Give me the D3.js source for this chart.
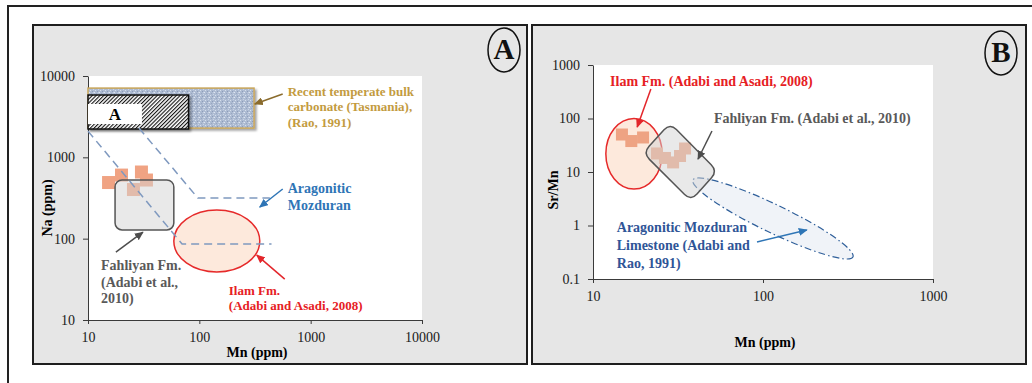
<!DOCTYPE html>
<html>
<head>
<meta charset="utf-8">
<script src="https://d3js.org/d3.v7.min.js"></script>
<style>
  body { margin: 0; background: #fff; }
  text { font-family: "Liberation Serif", "Times New Roman", serif; }
</style>
</head>
<body>
<div id="chart"></div>
<script>
// ---- panel A data (Mn vs Na, ppm) ----
var aIlamMn = [15.3, 20.0, 25.6, 30.2, 33.5];
var aIlamNa = [490, 605, 402, 660, 526];
var aRecentMn = [10, 310], aRecentNa = [7100, 2290];      // recent temperate bulk carbonate
var aHatchMn = [10, 80], aHatchNa = [5840, 2230];          // field A
var aWhiteMn = [10, 30.5], aWhiteNa = [4530, 2570];
var aFahliyanMn = [17.5, 59], aFahliyanNa = [526, 128];
var aIlamEllMn = [59, 349], aIlamEllNa = [225, 39];
var aArag1Mn = [10, 70, 445], aArag1Na = [2100, 86, 86];
var aArag2Mn = [28.7, 97, 430], aArag2Na = [2290, 316, 316];
var aTicks = [10, 100, 1000, 10000];

// ---- panel B data (Mn vs Sr/Mn) ----
var bIlamMn = [14.8, 16.8, 19.7, 23.8, 26.5, 29.6, 32.5, 34.8];
var bIlamSrMn = [50.2, 37.9, 44.2, 22.2, 18.3, 15.1, 19.9, 27.5];
var bIlamEllMn = [11.9, 25.5], bIlamEllSrMn = [100, 4.8];
var bFahliyanMn = [28.4, 54, 37.7, 19.7], bFahliyanSrMn = [82, 10.4, 2.9, 22.6];
var bAragEndsMn = [38.7, 338], bAragEndsSrMn = [7.1, 0.258];
var bXTicks = [10, 100, 1000];
var bYTicks = [0.1, 1, 10, 100, 1000];

var svg = d3.select("#chart").append("svg")
  .attr("width", 1032).attr("height", 383);

var defs = svg.append("defs");

// hatch for field A
var hatch = defs.append("pattern").attr("id", "hatch")
  .attr("patternUnits", "userSpaceOnUse").attr("width", 2.7).attr("height", 2.7)
  .attr("patternTransform", "rotate(45)");
hatch.append("rect").attr("width", 2.7).attr("height", 2.7).attr("fill", "#fff");
hatch.append("line").attr("x1", 0).attr("y1", 0).attr("x2", 0).attr("y2", 2.7)
  .attr("stroke", "#111").attr("stroke-width", 2.2);

// stipple for recent carbonate
var stip = defs.append("pattern").attr("id", "stipple")
  .attr("patternUnits", "userSpaceOnUse").attr("width", 5).attr("height", 5);
stip.append("rect").attr("width", 5).attr("height", 5).attr("fill", "#adbbd2");
[[0, 0, "#d6dfec"], [2, 1, "#8d9cb8"], [4, 2, "#dfe6f1"], [1, 3, "#98a7c1"], [3, 4, "#cbd5e6"], [3, 2, "#c4cfe2"]]
  .forEach(function (p) {
    stip.append("rect").attr("x", p[0]).attr("y", p[1]).attr("width", 1).attr("height", 1).attr("fill", p[2]);
  });

var shadow = defs.append("filter").attr("id", "shadow")
  .attr("x", "-10%").attr("y", "-10%").attr("width", "130%").attr("height", "140%");
shadow.append("feDropShadow").attr("dx", 2).attr("dy", 2).attr("stdDeviation", 1.2)
  .attr("flood-color", "#000").attr("flood-opacity", 0.35);

var arrowColors = { gold: "#8a6b2c", blue: "#2e75b6", gray: "#4d4d4d", red: "#e3262b" };
Object.keys(arrowColors).forEach(function (k) {
  defs.append("marker").attr("id", "arr-" + k)
    .attr("markerUnits", "userSpaceOnUse")
    .attr("markerWidth", 9).attr("markerHeight", 8)
    .attr("refX", 8).attr("refY", 4).attr("orient", "auto")
    .append("path").attr("d", "M0,0 L9,4 L0,8 z").attr("fill", arrowColors[k]);
});

// outer frame
svg.append("rect").attr("x", 8).attr("y", 6).attr("width", 1040).attr("height", 400)
  .attr("fill", "none").attr("stroke", "#222").attr("stroke-width", 2);

function panel(x0, x1, y0, y1) {
  svg.append("rect").attr("x", x0).attr("y", y0).attr("width", x1 - x0).attr("height", y1 - y0)
    .attr("fill", "#e6e6e6").attr("stroke", "#1e1e1e").attr("stroke-width", 2);
}
panel(33, 527, 25, 364);
panel(532, 1026, 25, 364);

function panelLetter(cx, cy, letter) {
  svg.append("ellipse").attr("cx", cx).attr("cy", cy).attr("rx", 16).attr("ry", 22)
    .attr("fill", "none").attr("stroke", "#111").attr("stroke-width", 1.5);
  svg.append("text").attr("x", cx).attr("y", cy + 9).attr("text-anchor", "middle")
    .attr("font-size", 29).attr("font-weight", "bold").attr("fill", "#111").text(letter);
}

function drawAxes(g, x, y, xt, yt) {
  var r = x.range(), d = y.range();
  g.append("rect").attr("x", r[0]).attr("y", d[1]).attr("width", r[1] - r[0]).attr("height", d[0] - d[1])
    .attr("fill", "#fff");
  var fmt = function (v) { return String(v); };
  var xg = g.append("g").attr("transform", "translate(0," + d[0] + ")");
  xg.call(d3.axisBottom(x).tickValues(x.ticks()).tickSize(-3).tickSizeOuter(0).tickFormat(""));
  xg.call(d3.axisBottom(x).tickValues(xt).tickSize(4).tickPadding(8).tickSizeOuter(0).tickFormat(fmt));
  var yg = g.append("g").attr("transform", "translate(" + r[0] + ",0)");
  yg.call(d3.axisLeft(y).tickValues(y.ticks()).tickSize(-3).tickSizeOuter(0).tickFormat(""));
  yg.call(d3.axisLeft(y).tickValues(yt).tickSize(5).tickPadding(8).tickSizeOuter(0).tickFormat(fmt));
  g.selectAll(".domain, .tick line").attr("stroke", "#3a3a3a");
  g.selectAll(".tick text").attr("font-size", 14).attr("fill", "#1a1a1a")
    .style("font-family", "Liberation Serif, serif");
}

function note(g, px, py, lines, color, size, lh) {
  var t = g.append("text").attr("x", px).attr("y", py).attr("fill", color)
    .attr("font-size", size).attr("font-weight", "bold");
  lines.forEach(function (s, i) {
    t.append("tspan").attr("x", px).attr("dy", i ? lh : 0).text(s);
  });
}

function arrow(g, p0, p1, key) {
  g.append("line").attr("x1", p0[0]).attr("y1", p0[1]).attr("x2", p1[0]).attr("y2", p1[1])
    .attr("stroke", arrowColors[key]).attr("stroke-width", 1.5)
    .attr("marker-end", "url(#arr-" + key + ")");
}

function roundedPoly(pts, r) {
  var n = pts.length, s = "";
  for (var i = 0; i < n; i++) {
    var p = pts[i], a = pts[(i - 1 + n) % n], b = pts[(i + 1) % n];
    var da = Math.hypot(a[0] - p[0], a[1] - p[1]), db = Math.hypot(b[0] - p[0], b[1] - p[1]);
    var s0 = [p[0] + (a[0] - p[0]) * r / da, p[1] + (a[1] - p[1]) * r / da];
    var s1 = [p[0] + (b[0] - p[0]) * r / db, p[1] + (b[1] - p[1]) * r / db];
    s += (i ? "L" : "M") + s0[0] + "," + s0[1] + "Q" + p[0] + "," + p[1] + " " + s1[0] + "," + s1[1];
  }
  return s + "Z";
}

// ================= PANEL A =================
var xA = d3.scaleLog().domain([10, 10000]).range([88, 422]);
var yA = d3.scaleLog().domain([10, 10000]).range([320, 76]);
var gA = svg.append("g");
drawAxes(gA, xA, yA, aTicks, aTicks);

function boxA(mn, na) {
  return gA.append("rect").attr("x", xA(mn[0])).attr("y", yA(na[0]))
    .attr("width", xA(mn[1]) - xA(mn[0])).attr("height", yA(na[1]) - yA(na[0]));
}
boxA(aRecentMn, aRecentNa).attr("fill", "url(#stipple)").attr("stroke", "#c9a65a")
  .attr("stroke-width", 1.5).attr("filter", "url(#shadow)");
boxA(aHatchMn, aHatchNa).attr("fill", "url(#hatch)").attr("stroke", "#111")
  .attr("stroke-width", 1.5).attr("filter", "url(#shadow)");
boxA(aWhiteMn, aWhiteNa).attr("fill", "#fff");
gA.append("text").attr("x", (xA(aWhiteMn[0]) + xA(aWhiteMn[1])) / 2)
  .attr("y", (yA(aWhiteNa[0]) + yA(aWhiteNa[1])) / 2 + 6)
  .attr("text-anchor", "middle").attr("font-size", 17).attr("font-weight", "bold").text("A");

// Ilam ellipse
gA.append("ellipse")
  .attr("cx", (xA(aIlamEllMn[0]) + xA(aIlamEllMn[1])) / 2)
  .attr("cy", (yA(aIlamEllNa[0]) + yA(aIlamEllNa[1])) / 2)
  .attr("rx", (xA(aIlamEllMn[1]) - xA(aIlamEllMn[0])) / 2)
  .attr("ry", (yA(aIlamEllNa[1]) - yA(aIlamEllNa[0])) / 2)
  .attr("fill", "#fde9dc").attr("stroke", "#e62a2a").attr("stroke-width", 1.5);

// Ilam samples
gA.selectAll("rect.sq").data(aIlamMn).enter().append("rect").attr("class", "sq")
  .attr("x", function (d) { return xA(d) - 6.5; })
  .attr("y", function (d, i) { return yA(aIlamNa[i]) - 6.5; })
  .attr("width", 13).attr("height", 13).attr("fill", "#f0a383");

// Fahliyan box
gA.append("rect").attr("x", xA(aFahliyanMn[0])).attr("y", yA(aFahliyanNa[0]))
  .attr("width", xA(aFahliyanMn[1]) - xA(aFahliyanMn[0]))
  .attr("height", yA(aFahliyanNa[1]) - yA(aFahliyanNa[0]))
  .attr("rx", 7).attr("fill", "#d4d4d4").attr("fill-opacity", 0.5)
  .attr("stroke", "#555").attr("stroke-width", 1.5);

// aragonitic Mozduran dashed limits
var lineA = d3.line().x(function (d) { return xA(d[0]); }).y(function (d) { return yA(d[1]); });
[[aArag1Mn, aArag1Na], [aArag2Mn, aArag2Na]].forEach(function (s) {
  gA.append("path").attr("d", lineA(d3.zip(s[0], s[1])))
    .attr("fill", "none").attr("stroke", "#7f99bf").attr("stroke-width", 1.5)
    .attr("stroke-dasharray", "8,5");
});

function pA(mn, na) { return [xA(mn), yA(na)]; }
note(gA, xA(622), yA(5680), ["Recent temperate bulk", "carbonate (Tasmania),", "(Rao, 1991)"], "#c39b3f", 13, 15.5);
arrow(gA, pA(561, 6010), pA(315, 4530), "gold");
note(gA, xA(622), yA(364), ["Aragonitic", "Mozduran"], "#2e75b6", 14, 16.5);
arrow(gA, pA(561, 408), pA(349, 245), "blue");
note(gA, xA(13.1), yA(41.1), ["Fahliyan Fm.", "(Adabi et al.,", "2010)"], "#595959", 14, 16.7);
arrow(gA, pA(17.8, 68.4), pA(31.1, 120), "gray");
note(gA, xA(184), yA(20.2), ["Ilam Fm.", "(Adabi and Asadi, 2008)"], "#e62024", 13, 15);
arrow(gA, pA(585, 31.8), pA(328, 62.8), "red");

gA.append("text").attr("x", 257).attr("y", 357).attr("text-anchor", "middle")
  .attr("font-size", 14).attr("font-weight", "bold").text("Mn (ppm)");
gA.append("text").attr("transform", "translate(52,208) rotate(-90)").attr("text-anchor", "middle")
  .attr("font-size", 14).attr("font-weight", "bold").text("Na (ppm)");
panelLetter(504, 50, "A");

// ================= PANEL B =================
var xB = d3.scaleLog().domain([10, 1000]).range([593, 933]);
var yB = d3.scaleLog().domain([0.1, 1000]).range([279, 65]);
var gB = svg.append("g");
drawAxes(gB, xB, yB, bXTicks, bYTicks);

// Ilam ellipse
gB.append("ellipse")
  .attr("cx", (xB(bIlamEllMn[0]) + xB(bIlamEllMn[1])) / 2)
  .attr("cy", (yB(bIlamEllSrMn[0]) + yB(bIlamEllSrMn[1])) / 2)
  .attr("rx", (xB(bIlamEllMn[1]) - xB(bIlamEllMn[0])) / 2)
  .attr("ry", (yB(bIlamEllSrMn[1]) - yB(bIlamEllSrMn[0])) / 2)
  .attr("fill", "#fde9dc").attr("stroke", "#e62a2a").attr("stroke-width", 1.5);

// aragonitic Mozduran limestone field
var e0 = [xB(bAragEndsMn[0]), yB(bAragEndsSrMn[0])], e1 = [xB(bAragEndsMn[1]), yB(bAragEndsSrMn[1])];
var ang = Math.atan2(e1[1] - e0[1], e1[0] - e0[0]) * 180 / Math.PI;
gB.append("ellipse")
  .attr("transform", "translate(" + (e0[0] + e1[0]) / 2 + "," + (e0[1] + e1[1]) / 2 + ") rotate(" + ang + ")")
  .attr("rx", Math.hypot(e1[0] - e0[0], e1[1] - e0[1]) / 2).attr("ry", 14)
  .attr("fill", "#f0f3f8").attr("stroke", "#2f5f9a").attr("stroke-width", 1.2)
  .attr("stroke-dasharray", "7,3,1.5,3");

// Ilam samples
gB.selectAll("rect.sq").data(bIlamMn).enter().append("rect").attr("class", "sq")
  .attr("x", function (d) { return xB(d) - 6; })
  .attr("y", function (d, i) { return yB(bIlamSrMn[i]) - 6; })
  .attr("width", 12).attr("height", 12).attr("fill", "#eea383");

// Fahliyan field (tilted box)
gB.append("path")
  .attr("d", roundedPoly(bFahliyanMn.map(function (d, i) { return [xB(d), yB(bFahliyanSrMn[i])]; }), 9))
  .attr("fill", "#d4d4d4").attr("fill-opacity", 0.5).attr("stroke", "#555").attr("stroke-width", 1.5);

function pB(mn, r) { return [xB(mn), yB(r)]; }
note(gB, xB(12.6), yB(404), ["Ilam Fm. (Adabi and Asadi, 2008)"], "#e62024", 14, 0);
arrow(gB, pB(21.9, 356), pB(18.2, 69.4), "red");
note(gB, xB(51.5), yB(82.5), ["Fahliyan Fm. (Adabi et al., 2010)"], "#595959", 14, 0);
arrow(gB, pB(50.1, 58.3), pB(41.5, 17.5), "gray");
note(gB, xB(13.8), yB(0.757), ["Aragonitic Mozduran", "Limestone (Adabi and", "Rao, 1991)"], "#2f5597", 14, 18);
arrow(gB, pB(92.2, 0.492), pB(181, 0.824), "blue");

gB.append("text").attr("x", 765).attr("y", 347).attr("text-anchor", "middle")
  .attr("font-size", 14).attr("font-weight", "bold").text("Mn (ppm)");
gB.append("text").attr("transform", "translate(558,190) rotate(-90)").attr("text-anchor", "middle")
  .attr("font-size", 14).attr("font-weight", "bold").text("Sr/Mn");
panelLetter(1001, 53, "B");
</script>
</body>
</html>
